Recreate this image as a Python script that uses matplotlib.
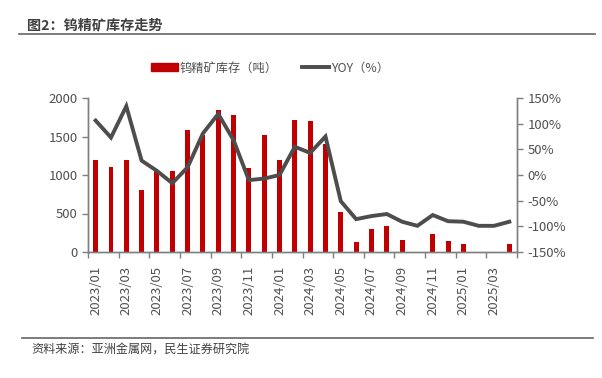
import matplotlib
matplotlib.use("Agg")
import matplotlib.pyplot as plt
from matplotlib.lines import Line2D
import numpy as np

plt.rcParams['font.family'] = ['Noto Sans CJK SC', 'DejaVu Sans']

months = ["2023/01","2023/02","2023/03","2023/04","2023/05","2023/06","2023/07","2023/08",
          "2023/09","2023/10","2023/11","2023/12","2024/01","2024/02","2024/03","2024/04",
          "2024/05","2024/06","2024/07","2024/08","2024/09","2024/10","2024/11","2024/12",
          "2025/01","2025/02","2025/03","2025/04"]
inventory = [1200, 1100, 1200, 800, 1050, 1050, 1590, 1520,
             1850, 1780, 1090, 1520, 1200, 1710, 1700, 1400,
             520, 130, 305, 340, 150, 0, 235, 140,
             100, 0, 0, 100]
yoy = [106, 73, 134, 28, 8, -16, 15, 81,
       119, 68, -10, -7, 0, 55, 43, 75,
       -51, -86, -80, -76, -91, -99, -78, -90,
       -91, -99, -99, -91]

RED = '#C00000'
GREY = '#4D4D4D'
TXT = '#505050'

fig = plt.figure(figsize=(6.02, 3.78), dpi=100)
ax = fig.add_axes([88/602, 1-252/378, (517-88)/602, (252-98)/378])
ax2 = ax.twinx()

x = np.arange(len(months))
ax.bar(x, inventory, width=0.32, color=RED, zorder=2)
ax2.plot(x, yoy, color=GREY, linewidth=2.8, solid_joinstyle='miter', zorder=3)

ax.set_xlim(-0.5, len(months) - 0.5)
ax.set_ylim(0, 2000)
ax.set_yticks([0, 500, 1000, 1500, 2000])
ax2.set_ylim(-150, 150)
ax2.set_yticks([-150, -100, -50, 0, 50, 100, 150])
ax2.set_yticklabels([f"{v}%" for v in [-150, -100, -50, 0, 50, 100, 150]])

ax.set_xticks(x[::2])
ax.set_xticklabels(months[::2], rotation=90)
ax.set_xticks(np.arange(-0.5, len(months), 2), minor=True)
ax.tick_params(axis='x', which='major', length=0, pad=10, labelsize=9.5, labelcolor=TXT)
ax.tick_params(axis='x', which='minor', length=4, width=1, color='#7F7F7F', direction='out')
ax.tick_params(axis='y', length=4, width=1, color='#7F7F7F', labelsize=9.5, labelcolor=TXT)
ax2.tick_params(axis='y', length=4, width=1, color='#7F7F7F', labelsize=9.5, labelcolor=TXT)

for a in (ax, ax2):
    a.spines['top'].set_visible(False)
    for s in ('left', 'right', 'bottom'):
        a.spines[s].set_color('#7F7F7F')
        a.spines[s].set_linewidth(1)

handles = [plt.Rectangle((0, 0), 1, 1, color=RED),
           Line2D([0], [0], color=GREY, linewidth=2.8)]
fig.legend(handles, ["钨精矿库存（吨）", "YOY（%）"], loc='center',
           bbox_to_anchor=(270/602, 1-68/378), ncol=2, frameon=False,
           fontsize=8.8, handlelength=2.2, handleheight=0.6, columnspacing=2.0,
           handletextpad=0.15, labelcolor=TXT)

fig.text(27/602, 1-25/378, "图2：钨精矿库存走势", fontsize=10.2, fontweight='bold',
         color='#404040', va='center', ha='left')
fig.add_artist(Line2D([19/602, 595/602], [1-33.5/378, 1-33.5/378], color='#666666', linewidth=1.2))
fig.add_artist(Line2D([22/602, 593/602], [1-337.7/378, 1-337.7/378], color='#666666', linewidth=1.2))
fig.text(31/602, 1-350/378, "资料来源：亚洲金属网，民生证券研究院", fontsize=8.7,
         color='#404040', va='center', ha='left')

fig.savefig("out.png", dpi=100)
